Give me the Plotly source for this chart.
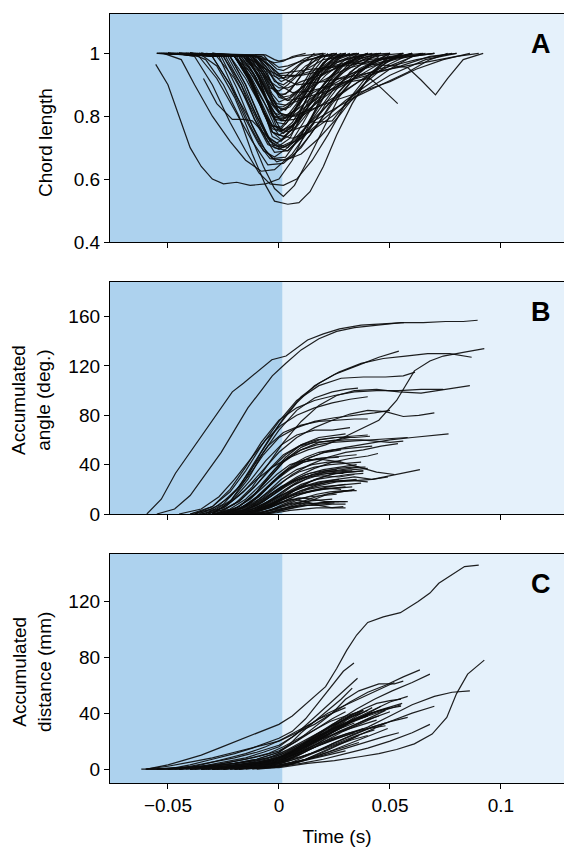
import plotly.graph_objects as go

# ---------------- Panel A : chord length ----------------
chord_time = [
    [-0.0555,-0.05,-0.045,-0.04,-0.035,-0.03,-0.025,-0.019,-0.013,-0.006,0.0,0.006,0.012,0.02,0.028],
    [-0.04,-0.033,-0.025,-0.018,-0.012,-0.006,-0.002,0.004,0.009,0.014,0.02,0.026,0.033,0.04,0.048,0.055],
    [-0.036,-0.028,-0.02,-0.013,-0.007,-0.002,0.002,0.007,0.013,0.02,0.027,0.036,0.045],
    [-0.046,-0.038,-0.03,-0.022,-0.015,-0.009,-0.004,0.002,0.008,0.015,0.022,0.03,0.04,0.05],
    [-0.052,-0.044,-0.038,-0.03,-0.022,-0.015,-0.008,-0.002,0.006,0.014,0.022,0.032,0.042],
    [-0.05,-0.036,-0.028,-0.02,-0.012,-0.005,0.002,0.01,0.018,0.026,0.036,0.05],
    [-0.048,-0.03,-0.022,-0.014,-0.008,-0.003,0.003,0.01,0.018,0.028,0.04],
    [-0.045,-0.028,-0.02,-0.012,-0.006,-0.002,0.004,0.012,0.02,0.03,0.042,0.056],
    [-0.05,-0.025,-0.017,-0.01,-0.004,0.0,0.005,0.012,0.02,0.035],
    [-0.04,-0.022,-0.015,-0.008,-0.003,0.001,0.006,0.012,0.019,0.03],
    [-0.045,-0.02,-0.013,-0.007,-0.002,0.002,0.008,0.016,0.026,0.04,0.06],
    [-0.05,-0.02,-0.014,-0.009,-0.004,0.001,0.007,0.013,0.02,0.026],
    [-0.042,-0.018,-0.012,-0.006,-0.002,0.003,0.009,0.016,0.026,0.04],
    [-0.04,-0.016,-0.01,-0.005,0.0,0.005,0.01,0.016,0.024,0.032],
    [-0.035,-0.015,-0.009,-0.003,0.001,0.006,0.012,0.02,0.026],
    [-0.05,-0.014,-0.008,-0.003,0.0,0.005,0.012,0.022,0.034,0.046],
    [-0.04,-0.012,-0.006,-0.002,0.001,0.005,0.01,0.015,0.021],
    [-0.038,-0.012,-0.007,-0.004,0.0,0.004,0.01,0.02,0.036],
    [-0.045,-0.01,-0.005,-0.002,0.002,0.006,0.012,0.02,0.03],
    [-0.03,-0.008,-0.004,-0.001,0.002,0.005,0.01,0.018,0.026],
    [-0.04,-0.008,-0.003,0.0,0.004,0.01,0.02,0.035,0.05],
    [-0.055,-0.006,-0.002,0.0,0.003,0.008,0.02],
    [-0.045,-0.025,-0.018,-0.011,-0.004,0.002,0.01,0.02,0.03,0.04,0.05,0.06,0.07],
    [-0.04,-0.02,-0.014,-0.008,-0.002,0.004,0.012,0.022,0.034,0.046,0.058,0.068,0.076],
    [-0.035,-0.02,-0.013,-0.006,0.0,0.006,0.014,0.025,0.038,0.05,0.062,0.074,0.086],
    [-0.03,-0.015,-0.008,-0.002,0.004,0.012,0.022,0.034,0.046,0.06],
    [-0.04,-0.018,-0.011,-0.005,0.001,0.007,0.015,0.025,0.036,0.046,0.056],
    [-0.05,-0.03,-0.022,-0.015,-0.009,-0.004,0.003,0.01,0.018,0.027,0.038,0.05],
    [-0.03,-0.015,-0.006,0.0,0.008,0.018,0.03,0.042,0.052,0.058,0.064,0.0705,0.076,0.083,0.092],
    [-0.035,-0.016,-0.009,-0.003,0.002,0.008,0.015,0.024,0.032,0.041,0.046,0.0535],
    [-0.04,-0.022,-0.015,-0.008,-0.002,0.004,0.01,0.016,0.024,0.03,0.038,0.048,0.06],
    [-0.034,-0.028,-0.021,-0.016,-0.012,-0.006,0.0,0.004,0.01,0.017,0.025,0.035],
    [-0.045,-0.012,-0.006,0.0,0.006,0.014,0.025,0.04,0.055,0.068,0.08],
    [-0.04,-0.01,-0.004,0.002,0.008,0.02,0.035,0.05,0.065,0.08,0.09],
    [-0.03,-0.01,-0.004,0.0,0.005,0.015,0.03,0.045,0.06,0.07],
    [-0.055,-0.02,-0.014,-0.008,-0.003,0.002,0.008,0.014,0.022,0.03,0.04],
    [-0.05,-0.024,-0.017,-0.011,-0.005,0.0,0.007,0.015,0.024,0.034,0.045],
    [-0.045,-0.026,-0.019,-0.012,-0.006,-0.001,0.006,0.014,0.024,0.036,0.05],
    [-0.04,-0.015,-0.009,-0.004,0.001,0.006,0.012,0.02,0.03,0.04],
    [-0.035,-0.012,-0.007,-0.003,0.0,0.005,0.011,0.018,0.026,0.035],
    [-0.048,-0.018,-0.012,-0.007,-0.003,0.001,0.006,0.012,0.02,0.03],
    [-0.044,-0.014,-0.009,-0.005,-0.001,0.003,0.009,0.016,0.024],
    [-0.036,-0.01,-0.006,-0.003,0.0,0.004,0.009,0.015,0.022,0.03],
    [-0.05,-0.016,-0.01,-0.006,-0.002,0.002,0.008,0.016,0.03,0.05,0.065],
    [-0.042,-0.02,-0.012,-0.006,0.0,0.006,0.014,0.024,0.036,0.05,0.066,0.08],
    [-0.052,-0.02,-0.013,-0.007,-0.003,0.001,0.006,0.012,0.02,0.028],
    [-0.046,-0.017,-0.011,-0.006,-0.002,0.002,0.007,0.013,0.021,0.03,0.042],
    [-0.043,-0.013,-0.008,-0.004,-0.001,0.003,0.008,0.014,0.02],
    [-0.039,-0.011,-0.007,-0.003,0.0,0.003,0.007,0.012,0.018,0.025],
    [-0.047,-0.009,-0.005,-0.002,0.001,0.004,0.009,0.016],
    [-0.041,-0.019,-0.012,-0.007,-0.003,0.0,0.005,0.011,0.018,0.027,0.038,0.05],
    [-0.053,-0.023,-0.016,-0.01,-0.005,-0.001,0.005,0.013,0.022,0.032,0.044],
    [-0.037,-0.017,-0.011,-0.006,-0.002,0.002,0.008,0.015,0.024,0.034,0.046,0.06],
    [-0.044,-0.015,-0.009,-0.005,-0.001,0.003,0.009,0.017,0.027,0.038,0.052,0.066],
    [-0.049,-0.013,-0.008,-0.004,0.0,0.004,0.01,0.018,0.028,0.04,0.056],
    [-0.033,-0.014,-0.009,-0.005,-0.001,0.003,0.008,0.014,0.022],
    [-0.051,-0.027,-0.02,-0.013,-0.007,-0.002,0.004,0.011,0.019,0.029,0.04],
    [-0.045,-0.016,-0.01,-0.005,-0.001,0.003,0.009,0.017,0.026,0.036],
    [-0.038,-0.01,-0.006,-0.003,0.0,0.004,0.01,0.017,0.026,0.04,0.055,0.07],
    [-0.042,-0.007,-0.004,-0.001,0.002,0.006,0.012,0.02],
    [-0.054,-0.02,-0.014,-0.008,-0.003,0.001,0.006,0.012,0.02,0.03,0.045,0.062,0.078],
    [-0.036,-0.018,-0.012,-0.007,-0.003,0.001,0.006,0.012,0.019,0.026,0.034],
    [-0.05,-0.022,-0.015,-0.009,-0.004,0.0,0.006,0.014,0.024,0.036,0.05,0.064],
    [-0.04,-0.012,-0.007,-0.003,0.001,0.005,0.01,0.016,0.024,0.034,0.046],
    [-0.055,-0.04,-0.025,-0.012,-0.006,-0.002,0.002,0.006,0.012],
]
chord_value = [
    [0.965,0.9,0.8,0.7,0.64,0.6,0.585,0.59,0.58,0.585,0.6,0.66,0.75,0.88,0.97],
    [1.0,0.98,0.9,0.8,0.68,0.58,0.53,0.52,0.525,0.56,0.64,0.74,0.84,0.92,0.97,1.0],
    [1.0,0.96,0.86,0.74,0.64,0.57,0.545,0.58,0.66,0.76,0.86,0.94,0.99],
    [1.0,0.99,0.9,0.78,0.69,0.62,0.585,0.58,0.6,0.66,0.74,0.84,0.93,0.99],
    [1.0,0.98,0.9,0.8,0.72,0.66,0.625,0.63,0.68,0.76,0.85,0.94,0.99],
    [1.0,0.99,0.92,0.82,0.72,0.645,0.65,0.7,0.78,0.87,0.95,1.0],
    [1.0,0.99,0.9,0.8,0.71,0.665,0.67,0.74,0.84,0.94,1.0],
    [1.0,0.99,0.92,0.82,0.73,0.685,0.69,0.75,0.82,0.9,0.97,1.0],
    [1.0,0.99,0.9,0.8,0.72,0.705,0.73,0.83,0.95,1.0],
    [1.0,0.99,0.92,0.83,0.75,0.725,0.76,0.85,0.95,1.0],
    [1.0,0.99,0.93,0.85,0.77,0.745,0.78,0.84,0.9,0.96,1.0],
    [1.0,0.99,0.93,0.85,0.77,0.765,0.82,0.9,0.97,1.0],
    [1.0,0.99,0.94,0.86,0.79,0.785,0.84,0.91,0.97,1.0],
    [1.0,0.99,0.94,0.87,0.81,0.8,0.85,0.92,0.98,1.0],
    [1.0,0.99,0.93,0.85,0.82,0.84,0.9,0.97,1.0],
    [1.0,0.99,0.94,0.87,0.845,0.86,0.9,0.94,0.98,1.0],
    [1.0,0.99,0.94,0.89,0.865,0.88,0.93,0.98,1.0],
    [1.0,0.99,0.94,0.89,0.88,0.9,0.94,0.98,1.0],
    [1.0,0.99,0.95,0.91,0.9,0.92,0.96,0.99,1.0],
    [1.0,0.99,0.96,0.93,0.92,0.94,0.97,0.99,1.0],
    [1.0,0.99,0.97,0.955,0.96,0.975,0.99,0.995,1.0],
    [1.0,0.995,0.98,0.975,0.98,0.99,1.0],
    [1.0,0.99,0.9,0.79,0.71,0.7,0.73,0.79,0.85,0.9,0.95,0.99,1.0],
    [1.0,0.99,0.92,0.83,0.76,0.75,0.77,0.81,0.86,0.9,0.94,0.98,1.0],
    [1.0,0.99,0.94,0.86,0.81,0.8,0.82,0.85,0.88,0.91,0.95,0.98,1.0],
    [1.0,0.99,0.94,0.88,0.85,0.86,0.88,0.92,0.97,1.0],
    [1.0,0.99,0.92,0.84,0.785,0.79,0.82,0.86,0.91,0.96,1.0],
    [1.0,0.99,0.9,0.79,0.71,0.665,0.66,0.68,0.73,0.8,0.9,1.0],
    [1.0,0.99,0.95,0.93,0.93,0.95,0.97,0.965,0.96,0.955,0.915,0.868,0.92,0.98,1.0],
    [1.0,0.99,0.93,0.84,0.8,0.8,0.83,0.88,0.91,0.92,0.89,0.84],
    [1.0,0.99,0.9,0.78,0.7,0.69,0.73,0.78,0.785,0.84,0.9,0.96,1.0],
    [0.92,0.84,0.79,0.79,0.785,0.74,0.71,0.7,0.74,0.82,0.92,0.99],
    [1.0,0.99,0.95,0.9,0.875,0.88,0.9,0.93,0.96,0.99,1.0],
    [1.0,0.99,0.96,0.92,0.9,0.91,0.93,0.95,0.97,0.99,1.0],
    [1.0,0.99,0.96,0.935,0.94,0.95,0.96,0.98,0.99,1.0],
    [1.0,0.99,0.92,0.83,0.75,0.735,0.77,0.84,0.92,0.97,1.0],
    [1.0,0.99,0.9,0.79,0.71,0.695,0.72,0.79,0.88,0.95,1.0],
    [1.0,0.99,0.89,0.77,0.69,0.655,0.67,0.74,0.84,0.94,1.0],
    [1.0,0.99,0.92,0.82,0.755,0.77,0.83,0.9,0.97,1.0],
    [1.0,0.99,0.93,0.86,0.815,0.83,0.88,0.94,0.99,1.0],
    [1.0,0.99,0.91,0.82,0.735,0.72,0.76,0.85,0.94,1.0],
    [1.0,0.99,0.92,0.84,0.78,0.775,0.83,0.93,1.0],
    [1.0,0.99,0.95,0.9,0.86,0.85,0.88,0.93,0.98,1.0],
    [1.0,0.99,0.94,0.88,0.83,0.83,0.86,0.9,0.95,0.99,1.0],
    [1.0,0.99,0.9,0.8,0.74,0.73,0.75,0.8,0.87,0.93,0.98,1.0],
    [1.0,0.99,0.92,0.83,0.77,0.76,0.8,0.88,0.96,1.0],
    [1.0,0.99,0.93,0.86,0.8,0.79,0.82,0.87,0.93,0.98,1.0],
    [1.0,0.99,0.93,0.87,0.83,0.82,0.87,0.94,1.0],
    [1.0,0.99,0.95,0.9,0.87,0.87,0.9,0.95,0.99,1.0],
    [1.0,0.99,0.96,0.93,0.91,0.92,0.96,1.0],
    [1.0,0.99,0.9,0.81,0.75,0.74,0.76,0.81,0.87,0.93,0.98,1.0],
    [1.0,0.99,0.9,0.8,0.73,0.715,0.74,0.81,0.89,0.96,1.0],
    [1.0,0.99,0.93,0.86,0.81,0.8,0.82,0.86,0.9,0.94,0.98,1.0],
    [1.0,0.99,0.94,0.88,0.84,0.835,0.85,0.88,0.92,0.95,0.98,1.0],
    [1.0,0.99,0.95,0.91,0.89,0.89,0.91,0.93,0.96,0.99,1.0],
    [1.0,0.99,0.92,0.85,0.8,0.795,0.84,0.93,1.0],
    [1.0,0.99,0.88,0.77,0.69,0.67,0.7,0.78,0.88,0.96,1.0],
    [1.0,0.99,0.92,0.84,0.765,0.755,0.79,0.87,0.95,1.0],
    [1.0,0.99,0.96,0.93,0.92,0.925,0.93,0.94,0.96,0.98,0.99,1.0],
    [1.0,0.995,0.97,0.95,0.945,0.96,0.985,1.0],
    [1.0,0.99,0.93,0.86,0.8,0.79,0.8,0.83,0.87,0.91,0.95,0.98,1.0],
    [1.0,0.99,0.91,0.82,0.76,0.75,0.78,0.85,0.93,0.98,1.0],
    [1.0,0.99,0.9,0.8,0.72,0.7,0.72,0.78,0.85,0.91,0.96,1.0],
    [1.0,0.99,0.94,0.89,0.86,0.865,0.89,0.93,0.97,0.99,1.0],
    [1.0,1.0,0.995,0.99,0.98,0.97,0.975,0.99,1.0],
]

# ---------------- Panel B : accumulated angle ----------------
angle_time = [
    [-0.0595,-0.053,-0.0466,-0.04,-0.0338,-0.027,-0.021,-0.016,-0.0113,-0.0032,0.0032,0.0129,0.02,0.0273,0.037,0.046,0.0563],
    [-0.055,-0.047,-0.04,-0.033,-0.026,-0.02,-0.014,-0.008,-0.003,0.003,0.01,0.018,0.026,0.034,0.044,0.055,0.065,0.075,0.083,0.0895],
    [-0.035,-0.025,-0.018,-0.01,-0.003,0.005,0.013,0.021,0.029,0.037,0.045,0.053,0.061,0.068,0.074,0.083,0.0925],
    [-0.033,-0.025,-0.018,-0.011,-0.004,0.003,0.01,0.018,0.027,0.037,0.047,0.057,0.067,0.077,0.0868],
    [-0.03,-0.022,-0.015,-0.008,0.0,0.008,0.016,0.025,0.035,0.045,0.054],
    [-0.038,-0.03,-0.022,-0.015,-0.008,0.0,0.008,0.018,0.028,0.038,0.048,0.056,0.0613],
    [-0.028,-0.02,-0.012,-0.005,0.002,0.01,0.018,0.026,0.034,0.044,0.054,0.064,0.075,0.086],
    [-0.032,-0.024,-0.016,-0.008,0.0,0.008,0.016,0.024,0.032,0.04,0.048,0.056,0.063,0.07],
    [-0.04,-0.03,-0.022,-0.014,-0.007,0.0,0.008,0.016,0.025,0.035,0.043,0.05],
    [-0.025,-0.017,-0.01,-0.003,0.004,0.012,0.02,0.03,0.04,0.05,0.06,0.07,0.0764],
    [-0.02,-0.012,-0.005,0.002,0.01,0.018,0.026,0.034,0.042,0.05,0.057,0.0635],
    [-0.036,-0.027,-0.019,-0.012,-0.005,0.002,0.01,0.018,0.026,0.034,0.04],
    [-0.03,-0.022,-0.014,-0.007,0.0,0.008,0.016,0.024,0.03,0.0356],
    [-0.025,-0.018,-0.011,-0.004,0.003,0.01,0.018,0.026,0.034,0.041],
    [-0.022,-0.015,-0.008,-0.001,0.006,0.014,0.022,0.03,0.038,0.046,0.0536],
    [-0.02,-0.013,-0.006,0.001,0.008,0.016,0.024,0.032,0.04,0.0446],
    [-0.018,-0.011,-0.004,0.003,0.01,0.018,0.026,0.034,0.042,0.0491],
    [-0.03,-0.02,-0.012,-0.005,0.002,0.01,0.018,0.026,0.032],
    [-0.028,-0.018,-0.01,-0.004,0.003,0.01,0.018,0.025,0.03],
    [-0.024,-0.016,-0.009,-0.003,0.004,0.011,0.019,0.027],
    [-0.022,-0.014,-0.008,-0.002,0.005,0.012,0.02,0.028,0.035],
    [-0.02,-0.013,-0.007,-0.001,0.005,0.012,0.019,0.026,0.033],
    [-0.018,-0.012,-0.006,0.0,0.006,0.013,0.02,0.027],
    [-0.016,-0.01,-0.004,0.002,0.008,0.015,0.022,0.03],
    [-0.015,-0.009,-0.003,0.003,0.009,0.016,0.023,0.031,0.038],
    [-0.026,-0.018,-0.011,-0.005,0.001,0.008,0.015,0.022,0.028],
    [-0.014,-0.008,-0.002,0.004,0.01,0.017,0.024],
    [-0.012,-0.006,0.0,0.006,0.012,0.018,0.025],
    [-0.01,-0.004,0.002,0.008,0.014,0.02,0.026],
    [-0.02,-0.012,-0.006,0.0,0.006,0.012,0.018,0.024,0.03],
    [-0.016,-0.01,-0.004,0.002,0.008,0.014,0.02,0.026,0.033],
    [-0.03,-0.022,-0.015,-0.009,-0.003,0.003,0.009,0.016,0.023,0.03,0.037],
    [-0.025,-0.017,-0.011,-0.005,0.001,0.007,0.013,0.02,0.027,0.034],
    [-0.035,-0.026,-0.018,-0.011,-0.004,0.003,0.01,0.017,0.025,0.033,0.04],
    [-0.038,-0.028,-0.02,-0.013,-0.006,0.001,0.008,0.016,0.024,0.032],
    [-0.045,-0.035,-0.027,-0.02,-0.013,-0.006,0.001,0.008,0.016,0.024,0.032,0.04],
    [-0.04,-0.03,-0.022,-0.015,-0.008,0.0,0.008,0.016,0.025,0.034,0.044,0.054,0.064,0.074],
    [-0.012,-0.006,0.0,0.006,0.012,0.018,0.024,0.03],
    [-0.008,-0.002,0.004,0.01,0.016,0.022,0.028,0.034],
    [-0.022,-0.015,-0.008,-0.002,0.004,0.01,0.017,0.024,0.031,0.038],
    [-0.018,-0.011,-0.005,0.001,0.007,0.014,0.021,0.028,0.036],
    [-0.026,-0.018,-0.011,-0.005,0.001,0.007,0.014,0.021,0.028],
    [-0.014,-0.008,-0.002,0.004,0.01,0.016,0.022,0.028],
    [-0.006,0.0,0.006,0.012,0.018,0.024,0.03],
    [-0.02,-0.013,-0.007,-0.001,0.005,0.011,0.017,0.023,0.029,0.035],
    [-0.032,-0.024,-0.017,-0.01,-0.004,0.002,0.009,0.016,0.023,0.03,0.037,0.044,0.05,0.056],
    [-0.028,-0.02,-0.013,-0.007,-0.001,0.005,0.012,0.02,0.028,0.036,0.044,0.052],
    [-0.024,-0.016,-0.009,-0.003,0.003,0.009,0.015,0.021,0.027,0.033,0.04],
    [-0.02,-0.013,-0.007,-0.001,0.005,0.011,0.017,0.023,0.029],
    [-0.017,-0.011,-0.005,0.001,0.007,0.013,0.019,0.025,0.031,0.037],
    [-0.013,-0.007,-0.001,0.005,0.011,0.017,0.023,0.029,0.035],
    [-0.011,-0.005,0.001,0.007,0.013,0.019,0.025,0.031],
    [-0.028,-0.02,-0.013,-0.007,-0.001,0.005,0.011,0.017,0.023,0.029,0.035],
    [-0.023,-0.015,-0.009,-0.003,0.003,0.009,0.015,0.021,0.027,0.033,0.039],
    [-0.019,-0.012,-0.006,0.0,0.006,0.012,0.018,0.024,0.03],
    [-0.009,-0.003,0.003,0.009,0.015,0.021,0.027,0.033],
    [-0.015,-0.009,-0.003,0.003,0.009,0.015,0.021,0.027],
    [-0.027,-0.019,-0.012,-0.006,0.0,0.006,0.012,0.018,0.024,0.03,0.036,0.042],
    [-0.021,-0.014,-0.008,-0.002,0.004,0.01,0.016,0.022,0.028,0.034,0.04],
    [-0.007,-0.001,0.005,0.011,0.017,0.023,0.029],
    [-0.016,-0.01,-0.004,0.002,0.008,0.014,0.02,0.026,0.032,0.038],
    [-0.025,-0.017,-0.01,-0.004,0.002,0.008,0.014,0.02,0.026],
    [-0.03,-0.022,-0.015,-0.008,-0.002,0.004,0.01,0.017,0.024,0.032,0.04,0.048,0.058],
]
angle_value = [
    [0,12,33,50,66,83,99,106,113,125,128,141,146,150,153,154,155],
    [0,4,15,32,50,68,86,100,112,122,133,142,148,151,153,155,155,156,156,157],
    [0,5,15,28,38,46,52,56,62,69,76,92,116,124,128,131,134],
    [0,8,22,42,62,80,95,106,115,122,126,128,130,130,127],
    [0,10,28,50,72,90,104,113,120,127,132],
    [0,6,18,35,55,75,92,104,110,111,111,112,115],
    [0,8,22,40,58,75,88,96,100,101,99,98,101,104],
    [0,6,18,34,50,62,70,76,81,84,83,79,80,82],
    [0,4,14,30,48,62,70,75,78,80,82,84],
    [0,5,14,26,36,44,50,54,57,60,62,64,65],
    [0,4,10,16,22,26,28,30,28,31,34,36],
    [0,7,20,38,55,66,72,75,76,77,77],
    [0,10,28,50,68,84,94,99,101,102],
    [0,6,16,30,44,54,60,62,62,63],
    [0,4,12,22,32,40,46,50,52,55,57],
    [0,5,13,22,30,37,42,45,47,49],
    [0,3,8,14,19,23,26,27,28,30],
    [0,4,14,28,42,52,58,60,62],
    [0,6,18,32,46,56,62,64,65],
    [0,5,14,25,36,42,45,46],
    [0,4,10,18,26,32,36,38,40],
    [0,3,8,15,22,28,32,34,35],
    [0,2,6,12,18,23,26,28],
    [0,2,5,10,15,19,22,24],
    [0,3,8,15,22,28,32,34,35],
    [0,3,9,18,28,36,40,42,42],
    [0,1,4,8,10,11,12],
    [0,2,5,8,9,8,9],
    [0,3,8,12,14,15,16],
    [0,2,5,9,12,10,7,5,5],
    [0,2,6,12,16,18,20,21,22],
    [0,2,6,12,20,28,34,38,40,41,42],
    [0,3,8,15,22,27,30,31,30,32],
    [0,3,10,22,36,48,56,60,62,63,64],
    [0,4,13,27,43,56,64,68,68,70],
    [0,4,14,28,44,60,72,80,86,90,93,95],
    [0,6,20,38,58,76,86,92,96,99,100,100,101,101],
    [0,2,4,6,7,7,8,8],
    [0,2,5,8,12,16,18,20],
    [0,2,6,12,18,24,28,30,32,33],
    [0,3,9,16,24,30,34,36,38],
    [0,4,12,22,32,40,46,50,52],
    [0,3,7,12,16,19,21,20],
    [0,2,5,8,9,10,10],
    [0,2,6,12,18,22,24,26,27,28],
    [0,4,12,24,37,48,55,58,59,60,60,59,58,59],
    [0,4,12,22,32,40,44,44,42,38,34,32],
    [0,3,8,15,22,28,32,34,35,36,37],
    [0,4,10,18,25,30,32,33,33],
    [0,2,6,11,16,20,22,23,24,25],
    [0,2,5,9,13,16,18,19,19],
    [0,1,3,5,7,9,10,10],
    [0,3,9,18,28,36,42,45,46,47,48],
    [0,2,6,12,20,27,32,35,37,38,38],
    [0,2,6,11,15,18,20,21,22],
    [0,2,5,9,13,16,18,19],
    [0,2,6,10,13,12,10,10],
    [0,3,10,20,31,40,46,50,52,53,54,55],
    [0,2,5,9,14,19,23,26,27,27,26],
    [0,1,3,4,5,5,6],
    [0,3,7,13,20,26,30,33,34,35],
    [0,2,7,14,22,29,33,35,36],
    [0,4,12,24,36,46,52,56,58,59,60,61,62],
]

# ---------------- Panel C : accumulated distance ----------------
dist_time = [
    [-0.0595,-0.05,-0.0434,-0.035,-0.027,-0.019,-0.011,-0.005,0.0,0.006,0.013,0.021,0.026,0.0305,0.035,0.04,0.047,0.0547,0.0627,0.068,0.072,0.078,0.0836,0.09],
    [-0.05,-0.04,-0.03,-0.02,-0.012,-0.005,0.0,0.006,0.012,0.018,0.024,0.029,0.0338],
    [-0.06,-0.045,-0.03,-0.015,0.0,0.0129,0.025,0.037,0.045,0.053,0.061,0.069,0.0756,0.08,0.085,0.0925],
    [-0.03,-0.02,-0.01,0.0,0.01,0.02,0.03,0.04,0.05,0.06,0.07,0.078,0.086],
    [-0.04,-0.03,-0.02,-0.01,0.0,0.008,0.016,0.024,0.032,0.04,0.048,0.056,0.0635],
    [-0.035,-0.025,-0.015,-0.005,0.003,0.011,0.019,0.027,0.035,0.043,0.051,0.06,0.068],
    [-0.03,-0.02,-0.01,0.0,0.01,0.02,0.03,0.04,0.05,0.06,0.07],
    [-0.02,-0.01,0.0,0.01,0.02,0.03,0.04,0.047,0.054],
    [-0.025,-0.015,-0.005,0.005,0.013,0.021,0.029,0.037,0.045,0.0555],
    [-0.045,-0.035,-0.025,-0.015,-0.007,0.0,0.007,0.014,0.021,0.028,0.0354],
    [-0.062,-0.05,-0.04,-0.03,-0.02,-0.01,0.0,0.008,0.016,0.024,0.032,0.04,0.046],
    [-0.058,-0.045,-0.03,-0.02,-0.01,0.0,0.007,0.014,0.021,0.028,0.035,0.042],
    [-0.055,-0.04,-0.03,-0.02,-0.01,-0.003,0.004,0.011,0.018,0.025,0.032,0.038],
    [-0.05,-0.038,-0.028,-0.018,-0.009,0.0,0.008,0.016,0.024,0.03],
    [-0.045,-0.035,-0.025,-0.015,-0.006,0.002,0.01,0.018,0.026,0.034,0.042,0.05],
    [-0.04,-0.03,-0.02,-0.01,0.0,0.008,0.016,0.024,0.032,0.04,0.048],
    [-0.038,-0.028,-0.018,-0.008,0.0,0.008,0.016,0.024,0.032,0.04],
    [-0.035,-0.025,-0.015,-0.006,0.002,0.01,0.018,0.026,0.034],
    [-0.032,-0.022,-0.012,-0.004,0.004,0.012,0.02,0.028,0.036,0.044],
    [-0.03,-0.02,-0.01,-0.002,0.006,0.014,0.022,0.03,0.038],
    [-0.028,-0.018,-0.009,0.0,0.008,0.016,0.024,0.032,0.04,0.048],
    [-0.025,-0.015,-0.006,0.002,0.01,0.018,0.026,0.034],
    [-0.022,-0.013,-0.005,0.003,0.011,0.019,0.027,0.035,0.043],
    [-0.02,-0.012,-0.004,0.004,0.012,0.02,0.028,0.036],
    [-0.018,-0.01,-0.002,0.006,0.014,0.022,0.03],
    [-0.015,-0.007,0.001,0.009,0.017,0.025,0.033,0.041,0.049],
    [-0.012,-0.004,0.004,0.012,0.02,0.028,0.036],
    [-0.05,-0.04,-0.03,-0.02,-0.01,0.0,0.006,0.012,0.018,0.024,0.03],
    [-0.045,-0.035,-0.025,-0.015,-0.005,0.002,0.009,0.016,0.023,0.03,0.038],
    [-0.06,-0.05,-0.04,-0.03,-0.02,-0.01,0.0,0.008,0.016,0.024,0.03,0.036,0.045,0.052,0.056],
    [-0.04,-0.03,-0.02,-0.01,0.0,0.008,0.016,0.024,0.032,0.04,0.048,0.055],
    [-0.035,-0.025,-0.015,-0.005,0.003,0.011,0.019,0.027,0.035,0.042],
    [-0.03,-0.02,-0.01,0.0,0.007,0.014,0.021,0.028,0.034],
    [-0.025,-0.016,-0.007,0.001,0.008,0.015,0.022,0.029,0.036,0.043,0.05],
    [-0.055,-0.045,-0.035,-0.025,-0.015,-0.005,0.002,0.01,0.018,0.026,0.034,0.042,0.05,0.058],
    [-0.02,-0.01,0.0,0.01,0.02,0.03,0.04,0.05,0.06,0.068],
    [-0.04,-0.03,-0.02,-0.01,0.0,0.005,0.01,0.016,0.022,0.028,0.033],
    [-0.045,-0.035,-0.025,-0.015,-0.006,0.001,0.008,0.015,0.022,0.03,0.038,0.046,0.052],
    [-0.035,-0.025,-0.015,-0.005,0.002,0.008,0.014,0.02,0.026,0.032,0.038,0.044,0.05,0.055],
    [-0.03,-0.02,-0.01,-0.003,0.004,0.01,0.016,0.022,0.028,0.034,0.04],
    [-0.026,-0.016,-0.007,0.0,0.006,0.012,0.018,0.024,0.03],
    [-0.022,-0.012,-0.004,0.003,0.009,0.015,0.021,0.027,0.033,0.039,0.045],
    [-0.05,-0.04,-0.03,-0.02,-0.01,-0.003,0.004,0.01,0.016,0.022,0.028,0.034,0.04],
    [-0.047,-0.036,-0.026,-0.016,-0.007,0.0,0.006,0.012,0.018,0.024,0.03,0.036],
    [-0.018,-0.009,-0.001,0.006,0.012,0.018,0.024,0.03,0.036,0.042,0.048],
    [-0.033,-0.023,-0.013,-0.005,0.002,0.009,0.016,0.023,0.03,0.037],
    [-0.01,-0.002,0.005,0.012,0.019,0.026,0.033,0.04],
    [-0.038,-0.028,-0.018,-0.009,-0.001,0.006,0.013,0.02,0.027,0.034,0.041,0.048,0.055],
    [-0.042,-0.032,-0.022,-0.012,-0.004,0.003,0.01,0.017,0.024,0.031],
    [-0.028,-0.018,-0.008,0.0,0.007,0.014,0.021,0.028,0.035,0.042,0.05,0.058],
]
dist_value = [
    [0,3,6,10,15,20,25,29,32,38,48,59,72,85,96,105,109,112,120,126,133,139,145,146],
    [0,3,7,11,15,19,22,27,36,48,60,70,76],
    [0,0,1,1,1,4,6,9,11,14,18,25,37,54,68,78],
    [0,2,4,7,12,18,24,30,38,46,52,55,56],
    [0,2,4,7,12,20,30,40,48,55,60,66,71],
    [0,1,3,6,10,17,26,35,43,50,56,62,68],
    [0,1,3,5,9,14,20,27,34,40,45],
    [0,1,3,6,10,15,20,23,26],
    [0,2,5,10,17,24,31,37,42,47],
    [0,2,5,8,12,16,24,34,44,54,65],
    [0,0,1,1,1,2,4,10,18,26,33,40,45],
    [0,1,1,2,3,5,10,17,24,30,36,40],
    [0,1,2,4,6,9,14,20,26,32,37,42],
    [0,1,3,6,9,13,20,28,36,41],
    [0,1,2,4,7,11,17,24,30,35,40,44],
    [0,1,2,3,6,11,17,24,30,36,42],
    [0,1,2,4,8,14,21,28,34,38],
    [0,1,3,5,9,15,22,28,33],
    [0,1,3,6,10,16,22,27,31,35],
    [0,1,2,4,8,14,20,25,29],
    [0,1,3,6,11,17,22,26,29,31],
    [0,1,3,6,11,17,22,26],
    [0,1,2,5,9,14,19,24,28],
    [0,1,2,4,7,11,15,19],
    [0,1,2,4,7,10,13],
    [0,1,2,5,9,14,19,24,29],
    [0,1,3,7,12,18,24],
    [0,2,5,8,12,17,23,30,36,40,44],
    [0,2,4,7,11,16,22,28,34,38,42],
    [0,2,5,8,12,16,20,26,32,40,50,56,61,61,63],
    [0,1,3,5,8,13,19,26,33,38,42,46],
    [0,1,2,4,8,14,22,30,38,44],
    [0,1,2,5,11,18,26,34,40],
    [0,1,2,4,9,15,21,27,32,37,41],
    [0,1,2,3,5,8,12,18,24,30,36,42,48,52],
    [0,1,2,4,7,11,15,20,26,32],
    [0,2,4,7,12,18,26,34,42,50,58],
    [0,3,7,11,16,21,27,33,40,46,52,58,62],
    [0,1,3,5,9,14,20,26,32,38,43,47,49,50],
    [0,1,2,5,9,14,20,26,31,35,38],
    [0,1,3,6,11,17,23,29,34],
    [0,1,3,6,11,16,22,27,31,35,38],
    [0,1,1,2,3,5,9,15,21,27,33,38,42],
    [0,1,2,3,5,8,13,19,26,32,37,41],
    [0,1,2,5,9,13,18,22,26,30,33],
    [0,1,3,6,10,16,23,30,36,40],
    [0,1,3,7,12,17,21,24],
    [0,1,3,5,8,13,19,25,31,36,40,43,45],
    [0,1,2,4,7,12,18,25,31,36],
    [0,1,2,4,7,11,16,21,26,30,34,37],
]

panel_letters = ["A", "B", "C"]
y_titles = ["Chord length", "Accumulated<br>angle (deg.)", "Accumulated<br>distance (mm)"]
y_ticks = [[0.4, 0.6, 0.8, 1.0], [0, 40, 80, 120, 160], [0, 40, 80, 120]]
y_ticktext = [["0.4", "0.6", "0.8", "1"], ["0", "40", "80", "120", "160"], ["0", "40", "80", "120"]]
y_ranges = [[0.4, 1.125], [0, 188], [-10, 154]]
x_ticks = [-0.05, 0.0, 0.05, 0.1]
x_ticktext = ["\u22120.05", "0", "0.05", "0.1"]
x_range = [-0.0761, 0.1284]
onset_time = 0.0015

DARK = "#add2ee"
LIGHT = "#e5f1fb"
LINE = "rgba(12,12,12,0.92)"
FONT = "Liberation Sans, Arial, sans-serif"

fig = go.Figure()
data_sets = [(chord_time, chord_value), (angle_time, angle_value), (dist_time, dist_value)]
axis_suffix = ["", "2", "3"]
for k, (tt, vv) in enumerate(data_sets):
    for t, v in zip(tt, vv):
        fig.add_trace(go.Scatter(x=t, y=v, mode="lines", xaxis="x" + axis_suffix[k], yaxis="y" + axis_suffix[k],
                                 line=dict(color=LINE, width=1.2), showlegend=False, hoverinfo="skip"))

W, H = 564, 848
ml, mr, mt, mb = 110, 0, 14, 65
ph = H - mt - mb
def dom(top_px, bot_px):
    return [(H - mb - bot_px) / ph, (H - mb - top_px) / ph]

domains = [dom(14, 242), dom(282, 514), dom(554, 783)]
# y-title centres in pixels (x, y)
title_pos = [(45, 143), (31, 400), (32, 672)]

layout = dict(width=W, height=H, margin=dict(l=ml, r=mr, t=mt, b=mb),
              paper_bgcolor="white", plot_bgcolor=LIGHT,
              font=dict(family=FONT, size=19, color="black"), showlegend=False)
shapes = []
annotations = []
for k in range(3):
    s = axis_suffix[k]
    xa = dict(domain=[0, 1], range=x_range, tickvals=x_ticks, ticktext=x_ticktext,
              showgrid=False, zeroline=False, showline=True, linecolor="black", linewidth=1.3,
              mirror=True, ticks="outside", ticklen=5, tickcolor="black", tickwidth=1.2,
              anchor="y" + s, showticklabels=(k == 2), tickfont=dict(size=19))
    if k == 2:
        xa["title"] = dict(text="Time (s)", font=dict(size=19), standoff=14)
    else:
        xa["matches"] = "x3"
    ya = dict(domain=domains[k], range=y_ranges[k], tickvals=y_ticks[k], ticktext=y_ticktext[k],
              showgrid=False, zeroline=False, showline=True, linecolor="black", linewidth=1.3,
              mirror=True, ticks="outside", ticklen=5, tickcolor="black", tickwidth=1.2,
              anchor="x" + s, tickfont=dict(size=19))
    layout["xaxis" + s] = xa
    layout["yaxis" + s] = ya
    shapes.append(dict(type="rect", xref="x" + s, yref="y" + s + " domain",
                       x0=x_range[0], x1=onset_time, y0=0, y1=1,
                       fillcolor=DARK, line=dict(width=0), layer="below"))
    annotations.append(dict(text="<b>" + panel_letters[k] + "</b>", xref="paper", yref="y" + s + " domain",
                            x=(541 - ml) / (W - ml - mr), y=0.87, xanchor="center", yanchor="middle",
                            showarrow=False, font=dict(size=27, color="black")))
    tx, ty = title_pos[k]
    annotations.append(dict(text=y_titles[k], xref="paper", yref="paper",
                            x=(tx - ml) / (W - ml - mr), y=(H - mb - ty) / ph,
                            xanchor="center", yanchor="middle", textangle=-90, showarrow=False,
                            font=dict(size=19, color="black")))
layout["shapes"] = shapes
layout["annotations"] = annotations
fig.update_layout(**layout)
fig.write_html("out.html")
